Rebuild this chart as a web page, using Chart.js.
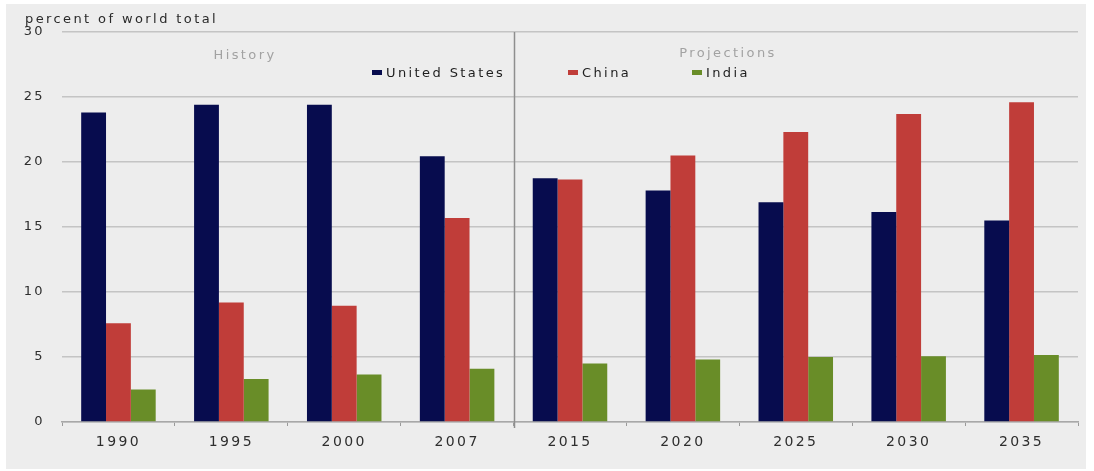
<!DOCTYPE html>
<html>
<head>
<meta charset="utf-8">
<script src="https://cdn.jsdelivr.net/npm/chart.js@4.4.1/dist/chart.umd.min.js"></script>
<style>
  html, body { margin: 0; padding: 0; background: #ffffff; }
  #wrap { width: 1094px; height: 471px; }
</style>
</head>
<body>
<div id="wrap"><canvas id="shareChart" width="1094" height="471"></canvas></div>
<script>
// Share of world total, history and projections
const years = ["1990", "1995", "2000", "2007", "2015", "2020", "2025", "2030", "2035"]
const unitedStates = [23.8, 24.4, 24.4, 20.45, 18.75, 17.8, 16.9, 16.15, 15.5]
const china = [7.6, 9.2, 8.95, 15.7, 18.65, 20.5, 22.3, 23.7, 24.6]
const india = [2.5, 3.3, 3.65, 4.1, 4.5, 4.8, 5.0, 5.05, 5.15]
const historyCount = 4 // 1990-2007 are history, the rest are projections

const FONT = "'DejaVu Sans', Verdana, sans-serif"

// Background panel, the history/projections split, the legend and the unit label
const decorations = {
  id: "decorations",
  beforeDraw(chart) {
    const ctx = chart.ctx
    ctx.save()
    ctx.fillStyle = "#ededed"
    ctx.fillRect(6, 4, 1080, 465)
    ctx.restore()
    // wide tracking on all the text
    ctx.letterSpacing = "2.4px"
  },
  afterDraw(chart) {
    const ctx = chart.ctx
    const area = chart.chartArea
    const x = chart.scales.x

    ctx.save()
    ctx.letterSpacing = "2.4px"

    // divider between history and projections
    const splitX = Math.round((x.getPixelForValue(historyCount - 1) + x.getPixelForValue(historyCount)) / 2) + 0.5
    ctx.strokeStyle = "#8e8e8e"
    ctx.lineWidth = 1.5
    ctx.beginPath()
    ctx.moveTo(splitX, area.top)
    ctx.lineTo(splitX, area.bottom + 6)
    ctx.stroke()

    // section captions
    ctx.font = "13px " + FONT
    ctx.fillStyle = "#a2a2a2"
    ctx.textAlign = "center"
    ctx.textBaseline = "alphabetic"
    ctx.fillText("History", 245, 59)
    ctx.fillText("Projections", 728, 57)

    // unit label
    ctx.fillStyle = "#2a2a2a"
    ctx.textAlign = "left"
    ctx.fillText("percent of world total", 25, 23)

    // legend
    const legendX = [372, 568, 692]
    chart.data.datasets.forEach((ds, i) => {
      ctx.fillStyle = ds.backgroundColor
      ctx.fillRect(legendX[i], 70, 10, 5)
      ctx.fillStyle = "#1e1e1e"
      ctx.fillText(ds.label, legendX[i] + 14, 77)
    })

    ctx.restore()
  },
}

const ctx = document.getElementById("shareChart").getContext("2d")

new Chart(ctx, {
  type: "bar",
  data: {
    labels: years,
    datasets: [
      { label: "United States", data: unitedStates, backgroundColor: "#070c4e" },
      { label: "China", data: china, backgroundColor: "#c03d39" },
      { label: "India", data: india, backgroundColor: "#698d28" },
    ],
  },
  options: {
    responsive: false,
    animation: false,
    devicePixelRatio: 1,
    datasets: {
      bar: {
        categoryPercentage: 0.66,
        barPercentage: 1.0,
        borderWidth: 0,
      },
    },
    layout: {
      padding: { top: 32, right: 16, bottom: 0, left: 0 },
    },
    plugins: {
      legend: { display: false },
      tooltip: { enabled: false },
    },
    scales: {
      x: {
        offset: true,
        grid: {
          display: true,
          drawOnChartArea: false,
          drawTicks: true,
          tickLength: 4,
          offset: true,
          color: "#9a9a9a",
          lineWidth: 1,
        },
        border: { display: true, color: "#a8a8a8", width: 1.5 },
        ticks: {
          color: "#2e2e2e",
          font: { family: FONT, size: 14 },
          padding: 8,
          maxRotation: 0,
          autoSkip: false,
        },
        afterFit(scale) {
          scale.height = 49
        },
      },
      y: {
        min: 0,
        max: 30,
        grid: { color: "#c4c4c4", lineWidth: 1.5, drawTicks: false },
        border: { display: false },
        ticks: {
          stepSize: 5,
          color: "#2e2e2e",
          font: { family: FONT, size: 13 },
          padding: 17,
        },
        afterFit(scale) {
          scale.width = 62
        },
      },
    },
  },
  plugins: [decorations],
})
</script>
</body>
</html>
